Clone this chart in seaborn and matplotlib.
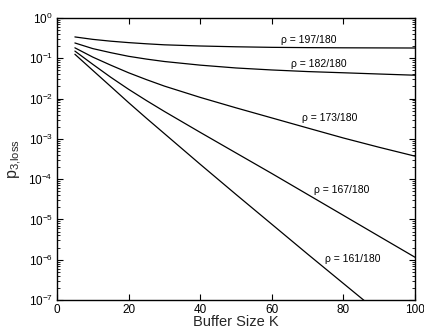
import matplotlib
matplotlib.use("Agg")
import numpy as np
import pandas as pd
import seaborn as sns
import matplotlib.pyplot as plt
from matplotlib.ticker import LogLocator, NullFormatter, MultipleLocator

# ---- data ----
buffer_k = [5, 10, 15, 20, 25, 30, 40, 50, 60, 70, 80, 90, 100]
p_197 = [0.339, 0.295, 0.266, 0.245, 0.229, 0.216, 0.202, 0.193, 0.187, 0.184, 0.182, 0.181, 0.180]
p_182 = [0.240, 0.174, 0.138, 0.112, 0.0955, 0.0832, 0.0676, 0.0575, 0.0513, 0.0468, 0.0437, 0.0407, 0.0380]
p_173 = [0.182, 0.107, 0.0676, 0.0437, 0.0295, 0.0204, 0.0107, 0.00589, 0.00331, 0.00186, 0.00105, 0.000617, 0.000372]
p_167 = [0.151, 0.0708, 0.0339, 0.0170, 0.00891, 0.00479, 0.00145, 0.000447, 0.000138, 4.17e-5, 1.26e-5, 3.80e-6, 1.15e-6]
p_161 = [0.126, 0.0501, 0.0200, 0.00794, 0.00324, 0.00135, 0.000234, 4.17e-5, 7.59e-6, 1.38e-6, 2.57e-7, 4.79e-8, 8.9e-9]

rho_labels = ["ρ = 197/180", "ρ = 182/180", "ρ = 173/180", "ρ = 167/180", "ρ = 161/180"]
label_x = [70.3, 73.1, 76.3, 79.6, 82.6]
label_y = [0.284, 0.0708, 0.00324, 5.4e-5, 1.02e-6]

series = [p_197, p_182, p_173, p_167, p_161]
rows = []
for lab, vals in zip(rho_labels, series):
    for k, v in zip(buffer_k, vals):
        rows.append({"K": k, "p": v, "rho": lab})
df = pd.DataFrame(rows)

sns.set_theme(style="ticks")
plt.rcParams["font.family"] = ["Liberation Sans", "DejaVu Sans"]
plt.rcParams["mathtext.fontset"] = "custom"
plt.rcParams["mathtext.rm"] = "Liberation Sans"
plt.rcParams["mathtext.it"] = "Liberation Sans:italic"
plt.rcParams["mathtext.bf"] = "Liberation Sans:bold"

fig = plt.figure(figsize=(4.24, 3.31), dpi=100)
ax = fig.add_axes([0.1344, 0.0937, 0.8444, 0.8519])

sns.lineplot(data=df, x="K", y="p", units="rho", estimator=None,
             color="black", linewidth=0.9, legend=False, ax=ax)

ax.set_yscale("log")
ax.set_xlim(0, 100)
ax.set_ylim(1e-7, 1e0)

ax.xaxis.set_major_locator(MultipleLocator(20))
ax.yaxis.set_major_locator(LogLocator(base=10, numticks=10))
ax.yaxis.set_minor_locator(LogLocator(base=10, subs=np.arange(2, 10), numticks=20))
ax.yaxis.set_minor_formatter(NullFormatter())

ax.tick_params(axis="both", which="both", direction="in", top=True, right=True,
               labelsize=8.5, colors="black")
ax.tick_params(which="major", length=4, width=0.8, pad=3)
ax.tick_params(which="minor", length=2, width=0.6)

for s in ax.spines.values():
    s.set_linewidth(1.0)
    s.set_color("black")

ax.set_xlabel("Buffer Size K", fontsize=10.5, labelpad=-0.5)
ax.set_ylabel(r"p$_{3{,}\mathrm{loss}}$", fontsize=11.5, labelpad=3)

for t, x, y in zip(rho_labels, label_x, label_y):
    ax.text(x, y, t, fontsize=7.5, ha="center", va="center", color="black")

fig.savefig("out.png", dpi=100)
